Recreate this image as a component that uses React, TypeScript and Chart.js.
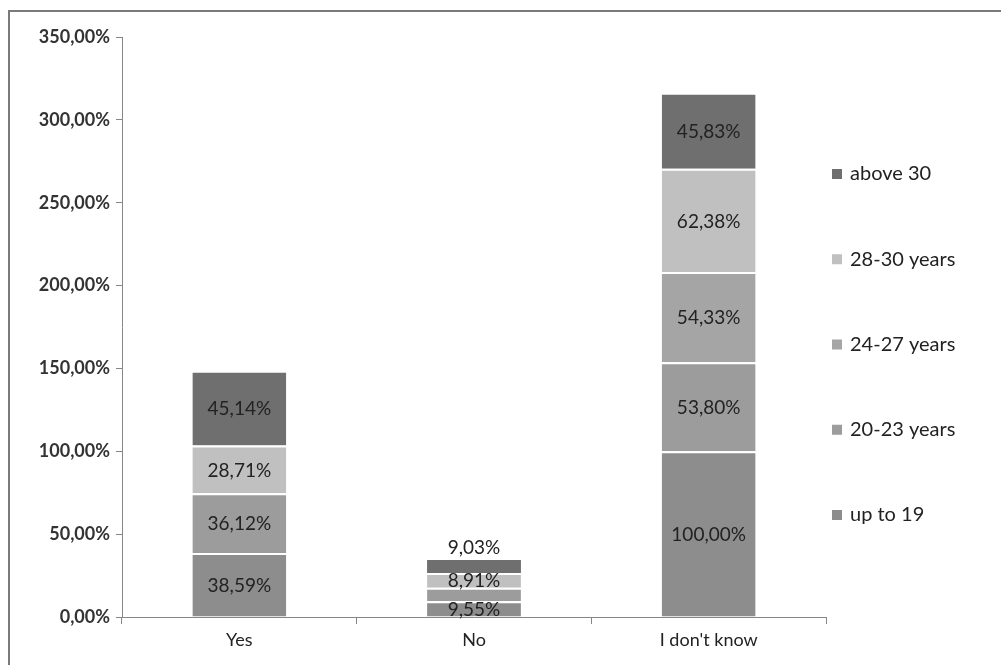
import React, { useEffect, useRef } from 'react';
import { Chart, registerables } from 'chart.js';

Chart.register(...registerables);

const categories = ['Yes', 'No', "I don't know"];
const seriesNames = ['up to 19', '20-23 years', '24-27 years', '28-30 years', 'above 30'];
const upTo19 = [38.59, 9.55, 100.0];
const years20to23 = [36.12, 8.1, 53.8];
const years24to27 = [0, 0, 54.33];
const years28to30 = [28.71, 8.91, 62.38];
const above30 = [45.14, 9.03, 45.83];
// which values carry a visible data label
const labelShown = [
  [true, true, true],
  [true, false, true],
  [true, true, true],
  [true, true, true],
  [true, true, true],
];
const yTickStep = 50;
const yMax = 350;

const seriesColors = ['#8d8d8d', '#9c9c9c', '#a5a5a5', '#c0c0c0', '#6f6f6f'];

const fmt = (v: number) => v.toFixed(2).replace('.', ',') + '%';

export default function App() {
  const ref = useRef<HTMLCanvasElement>(null);

  useEffect(() => {
    if (!ref.current) return;
    const seriesValues = [upTo19, years20to23, years24to27, years28to30, above30];

    const framePlugin = {
      id: 'frame',
      beforeDraw(chart: any) {
        const ctx = chart.ctx;
        ctx.save();
        ctx.fillStyle = '#ffffff';
        ctx.fillRect(0, 0, chart.width, chart.height);
        ctx.strokeStyle = '#7a7a7a';
        ctx.lineWidth = 2;
        ctx.beginPath();
        ctx.moveTo(9, chart.height);
        ctx.lineTo(9, 11);
        ctx.lineTo(chart.width, 11);
        ctx.stroke();
        ctx.restore();
      },
    };

    const labelPlugin = {
      id: 'valueLabels',
      afterDatasetsDraw(chart: any) {
        const ctx = chart.ctx;
        ctx.save();
        ctx.font = '19px Lato';
        ctx.fillStyle = '#222222';
        ctx.textAlign = 'center';
        ctx.textBaseline = 'middle';
        const n = chart.data.datasets.length;
        chart.data.datasets.forEach((ds: any, di: number) => {
          const meta = chart.getDatasetMeta(di);
          meta.data.forEach((bar: any, i: number) => {
            const v = ds.data[i];
            if (!v || !labelShown[di][i]) return;
            const h = Math.abs(bar.base - bar.y);
            let cy = (bar.y + bar.base) / 2;
            if (di === n - 1 && h < 20) cy = bar.y - 11;
            ctx.fillText(fmt(v), bar.x, cy + 1);
          });
        });
        ctx.restore();
      },
    };

    const legendPlugin = {
      id: 'sideLegend',
      afterDraw(chart: any) {
        const ctx = chart.ctx;
        ctx.save();
        ctx.font = '20px Lato';
        ctx.textBaseline = 'middle';
        ctx.textAlign = 'left';
        const count = seriesNames.length;
        for (let k = 0; k < count; k++) {
          const si = count - 1 - k;
          const y = 174 + k * 85.25;
          ctx.fillStyle = seriesColors[si];
          ctx.fillRect(832, y - 5, 10, 10);
          ctx.fillStyle = '#222222';
          ctx.fillText(seriesNames[si], 850, y);
        }
        ctx.restore();
      },
    };

    const chart = new Chart(ref.current, {
      type: 'bar',
      data: {
        labels: categories,
        datasets: seriesNames.map((name, i) => ({
          label: name,
          data: seriesValues[i],
          backgroundColor: seriesColors[i],
          borderColor: '#ffffff',
          borderWidth: { top: 2, left: 0, right: 0, bottom: 0 },
          borderSkipped: false,
          barPercentage: 0.4,
          categoryPercentage: 1,
        })),
      },
      options: {
        responsive: false,
        animation: false,
        layout: { padding: { top: 37, right: 175, left: 0, bottom: 0 } },
        plugins: { legend: { display: false }, tooltip: { enabled: false } },
        scales: {
          x: {
            stacked: true,
            grid: { drawOnChartArea: false, tickLength: 7, color: '#868686', offset: true },
            border: { color: '#868686' },
            ticks: { font: { family: 'Lato', size: 18 }, color: '#222222', padding: 5 },
            afterFit: (s: any) => { s.height = 48; },
          },
          y: {
            stacked: true,
            min: 0,
            max: yMax,
            grid: { drawOnChartArea: false, tickLength: 6, color: '#868686' },
            border: { color: '#868686' },
            ticks: {
              stepSize: yTickStep,
              font: { family: 'Lato', size: 18, weight: 'bold' },
              color: '#333333',
              padding: 6,
              callback: (v: any) => fmt(Number(v)),
            },
            afterFit: (s: any) => { s.width = 122; },
          },
        },
      },
      plugins: [framePlugin, labelPlugin, legendPlugin],
    });
    return () => chart.destroy();
  }, []);

  return (
    <div style={{ position: 'fixed', left: 0, top: 0, width: 1001, height: 665, background: '#fff' }}>
      <canvas ref={ref} width={1001} height={665} style={{ display: 'block' }} />
    </div>
  );
}
